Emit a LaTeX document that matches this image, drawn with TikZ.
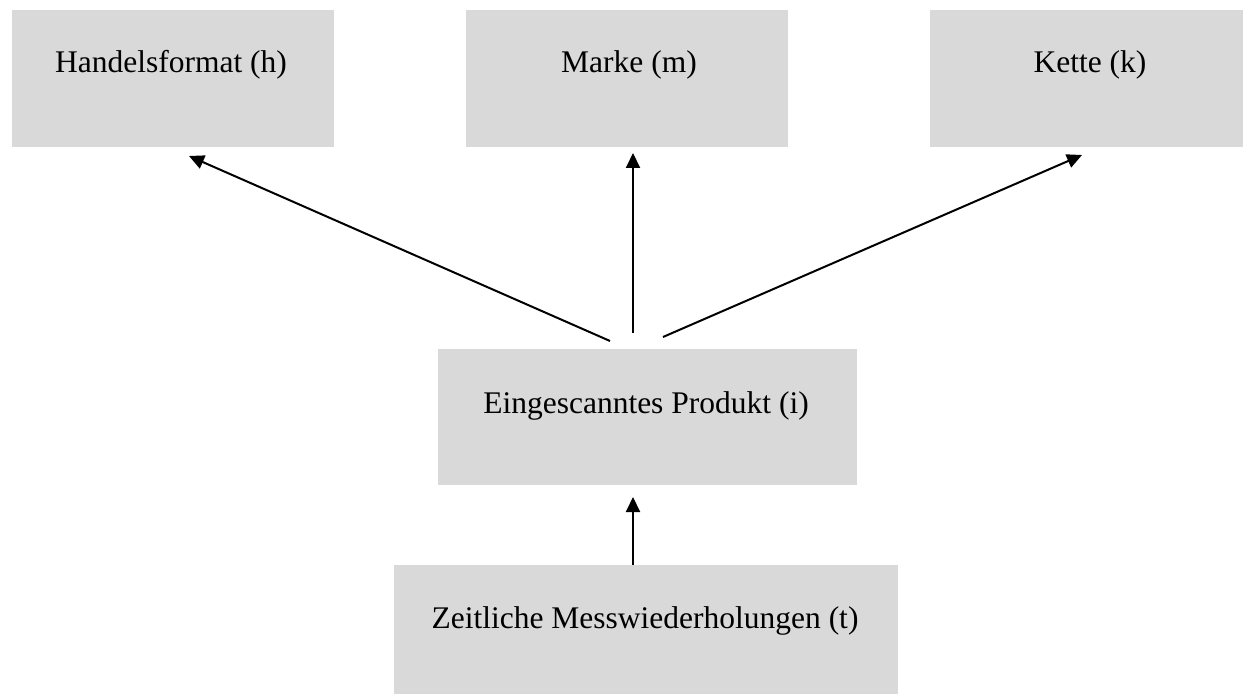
\documentclass[tikz,border=0pt]{standalone}
\usepackage{fontspec}
\setmainfont{Liberation Serif}
\usetikzlibrary{arrows.meta}
\definecolor{boxgray}{HTML}{D9D9D9}
\tikzset{
  box/.style={fill=boxgray, draw=none, inner sep=0pt, outer sep=0pt},
  lbl/.style={anchor=base, inner sep=0pt, font=\fontsize{31.5}{36}\selectfont},
  arr/.style={line width=2pt, -{Triangle[length=15pt,width=14pt]}}
}
\begin{document}
\begin{tikzpicture}[x=1pt,y=-1pt]
\useasboundingbox (0,0) rectangle (1243,695);
% boxes
\node[box, minimum width=322pt, minimum height=137pt] (h) at (173,78.5) {};
\node[box, minimum width=322pt, minimum height=137pt] (m) at (627,78.5) {};
\node[box, minimum width=313pt, minimum height=137pt] (k) at (1086.5,78.5) {};
\node[box, minimum width=419pt, minimum height=136pt] (i) at (647.5,417) {};
\node[box, minimum width=504pt, minimum height=129pt] (t) at (646,629.5) {};
% labels
\node[lbl] (hl) at (171,73) {Handelsformat (h)};
\node[lbl] (ml) at (629,73) {Marke (m)};
\node[lbl] (kl) at (1090,73) {Kette (k)};
\node[lbl] (il) at (646,413) {Eingescanntes Produkt (i)};
\node[lbl] (tl) at (645,628) {Zeitliche Messwiederholungen (t)};
% connector end points
\coordinate (ihs) at ([xshift=-37.5pt,yshift=8pt]i.north);
\coordinate (ims) at ([xshift=-14.5pt,yshift=16pt]i.north);
\coordinate (iks) at ([xshift=15.5pt,yshift=12pt]i.north);
\coordinate (ht) at ([xshift=16pt,yshift=-9pt]h.south);
\coordinate (mt) at ([xshift=6pt,yshift=-6pt]m.south);
\coordinate (kt) at ([xshift=-4.5pt,yshift=-8pt]k.south);
\coordinate (ts) at ([xshift=-13pt]t.north);
\coordinate (it) at ([xshift=-14.5pt,yshift=-12pt]i.south);
% connectors
\draw[arr] (ihs) -- (ht);
\draw[arr] (ims) -- (mt);
\draw[arr] (iks) -- (kt);
\draw[arr] (ts) -- (it);
\end{tikzpicture}
\end{document}
